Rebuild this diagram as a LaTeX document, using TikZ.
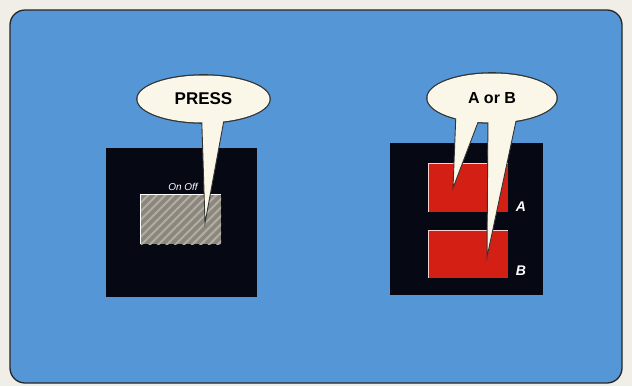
\documentclass[tikz,border=0pt]{standalone}
\usepackage{fontspec}
\setmainfont{Liberation Sans}
\usetikzlibrary{shapes.geometric,patterns.meta}
\definecolor{paper}{RGB}{240,238,230}
\definecolor{panelblue}{RGB}{84,150,214}
\definecolor{panelblack}{RGB}{6,8,20}
\definecolor{bubble}{RGB}{250,246,232}
\definecolor{btnred}{RGB}{212,32,20}
\definecolor{btngray}{RGB}{140,135,124}
\definecolor{hatch}{RGB}{178,174,164}
\tikzset{
  panel/.style={fill=panelblack, draw=none, inner sep=0pt, outer sep=0pt},
  redbtn/.style={fill=btnred, draw=none, inner sep=0pt, outer sep=0pt},
  bubblenode/.style={ellipse, fill=bubble, draw=black!80, line width=1.6pt, inner sep=0pt},
  tailfill/.style={fill=bubble, draw=black!80, line width=0.9pt, line join=miter},
  label/.style={text=white, font=\bfseries\itshape\fontsize{14}{14}\selectfont, inner sep=0pt},
}
\begin{document}
\begin{tikzpicture}[x=1pt,y=-1pt]
\useasboundingbox (0,0) rectangle (632,386);
\fill[paper] (0,0) rectangle (632,386);
\draw[fill=panelblue, draw=black!85, line width=1.3pt, rounded corners=15pt] (10,10) rectangle (622,383);

% left panel
\node[panel, minimum width=151pt, minimum height=149pt] (lpanel) at (181.5,222.5) {};
\node[fill=btngray, inner sep=0pt, minimum width=80pt, minimum height=49pt] (graybtn) at (181,219.5) {};
\begin{scope}
\clip (graybtn.south west) rectangle (graybtn.north east);
\fill[pattern={Lines[angle=45,distance=6pt,line width=2pt]}, pattern color=hatch] ([shift={(-5pt,-5pt)}]graybtn.south west) rectangle ([shift={(5pt,5pt)}]graybtn.north east);
\end{scope}
\draw[white, line width=1pt] (graybtn.south west) -- (graybtn.north west) -- (graybtn.north east);
\node[text=white, font=\itshape\fontsize{10}{10}\selectfont, inner sep=0pt] (onoff) at (183,187) {On Off};

% right panel
\node[panel, minimum width=153pt, minimum height=152pt] (rpanel) at (466.5,219) {};
\node[redbtn, minimum width=80pt, minimum height=49pt] (abtn) at (468,187.5) {};
\node[redbtn, minimum width=80pt, minimum height=48pt] (bbtn) at (468,254) {};
\draw[white!80!btnred, line width=1pt] (abtn.south west) -- (abtn.north west) -- (abtn.north east);
\draw[white!80!btnred, line width=1pt] (bbtn.south west) -- (bbtn.north west) -- (bbtn.north east);
\node[label] (alabel) at (521,207) {A};
\node[label] (blabel) at (521,271) {B};

% PRESS bubble
\node[bubblenode, minimum width=133pt, minimum height=48pt] (press) at (203.5,99) {};
\coordinate (presstip) at (205,223);
\filldraw[tailfill] ([xshift=-2pt,yshift=12pt]press.south) -- (presstip) -- ([xshift=22pt,yshift=12pt]press.south) -- cycle;
\fill[bubble] (press.center) ellipse (66pt and 23.5pt);
\node[font=\bfseries\fontsize{17}{17}\selectfont, inner sep=0pt] (presstext) at (press.center) {PRESS};

% A or B bubble
\node[bubblenode, minimum width=130pt, minimum height=50pt] (aorb) at (492,98) {};
\coordinate (atip) at (453,188);
\coordinate (btip) at (487,257);
\filldraw[tailfill] ([xshift=-36pt,yshift=12pt]aorb.south) -- (atip) -- ([xshift=-10pt,yshift=12pt]aorb.south) -- cycle;
\filldraw[tailfill] ([xshift=-4pt,yshift=12pt]aorb.south) -- (btip) -- ([xshift=26pt,yshift=12pt]aorb.south) -- cycle;
\fill[bubble] (aorb.center) ellipse (64.5pt and 24.5pt);
\node[font=\bfseries\fontsize{16}{16}\selectfont, inner sep=0pt] (aorbtext) at (aorb.center) {A or B};
\end{tikzpicture}
\end{document}
